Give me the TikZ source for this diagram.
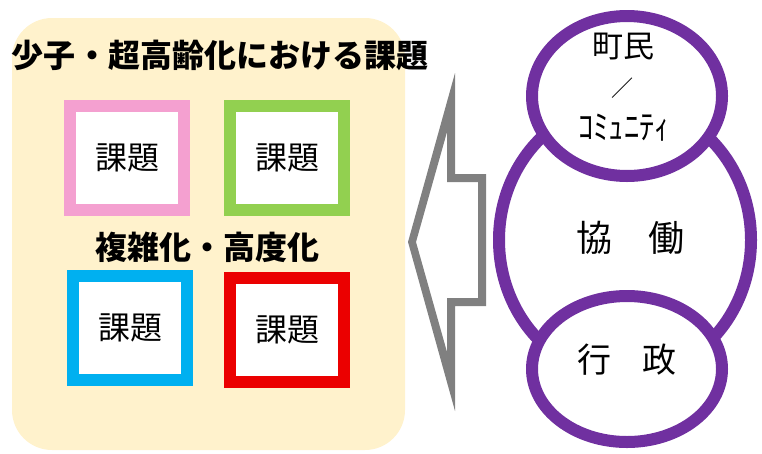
\documentclass[tikz,border=0pt]{standalone}
\usepackage{fontspec}
\setmainfont{Noto Sans CJK JP}
\usetikzlibrary{shapes.geometric}
\definecolor{bgcream}{RGB}{255,242,204}
\definecolor{kpink}{RGB}{244,160,208}
\definecolor{kgreen}{RGB}{146,208,80}
\definecolor{kblue}{RGB}{0,176,240}
\definecolor{kred}{RGB}{235,0,0}
\definecolor{kpurple}{RGB}{112,48,160}
\definecolor{kgray}{RGB}{128,128,128}

\begin{document}
\begin{tikzpicture}[x=1pt,y=-1pt,
kadai/.style = {rectangle, line width=12pt, fill=white, minimum width=114pt,
                minimum height=104pt, inner sep=0pt, font=\fontsize{32}{32}\selectfont},
title/.style = {font=\fontsize{32}{32}\selectfont\bfseries, inner sep=0pt},
wa/.style = {ellipse, draw=kpurple, line width=12pt, fill=white, inner sep=0pt},
label/.style = {inner sep=0pt, font=\fontsize{31}{31}\selectfont}]
\useasboundingbox (0,0) rectangle (762,453);

% left panel
\fill[bgcream, rounded corners=40pt] (12,18) rectangle (405,450);
\node [title] (theme) at (220,55) {少子・超高齢化における課題};
\node [title] (sub) at (207,247) {複雑化・高度化};
\node [kadai, draw=kpink] (k1) at (127,158) {課題};
\node [kadai, draw=kgreen] (k2) at (287,158) {課題};
\node [kadai, draw=kblue] (k3) at (130,328) {課題};
\node [kadai, draw=kred] (k4) at (287,330) {課題};

% arrow (outline)
\fill[kgray, even odd rule]
  (408,242) -- (455,73) -- (455,174) -- (486,174) -- (486,306)
  -- (455,306) -- (455,411) -- cycle
  (416,242) -- (447,132) -- (447,182) -- (478,182) -- (478,298)
  -- (447,298) -- (447,352) -- cycle;

% circles
\node [wa, minimum width=252pt, minimum height=274pt] (kyodo) at (625,240) {};
\node [wa, minimum width=190pt, minimum height=160pt] (chomin) at (627,96) {};
\node [wa, minimum width=190pt, minimum height=146pt] (gyosei) at (627,369) {};
\node [label, font=\fontsize{36}{36}\selectfont] at (630,238) {協\hspace{1em}働};
\node [label] at (623,47) {町民};
\node [label, font=\fontsize{22}{22}\selectfont] at (622,88) {／};
\node [label, font=\fontsize{34}{34}\selectfont, xscale=0.9] at (624,128) {ｺﾐｭﾆﾃｨ};
\node [label, font=\fontsize{34}{34}\selectfont] at (627,360) {行\hspace{0.9em}政};
\end{tikzpicture}
\end{document}
